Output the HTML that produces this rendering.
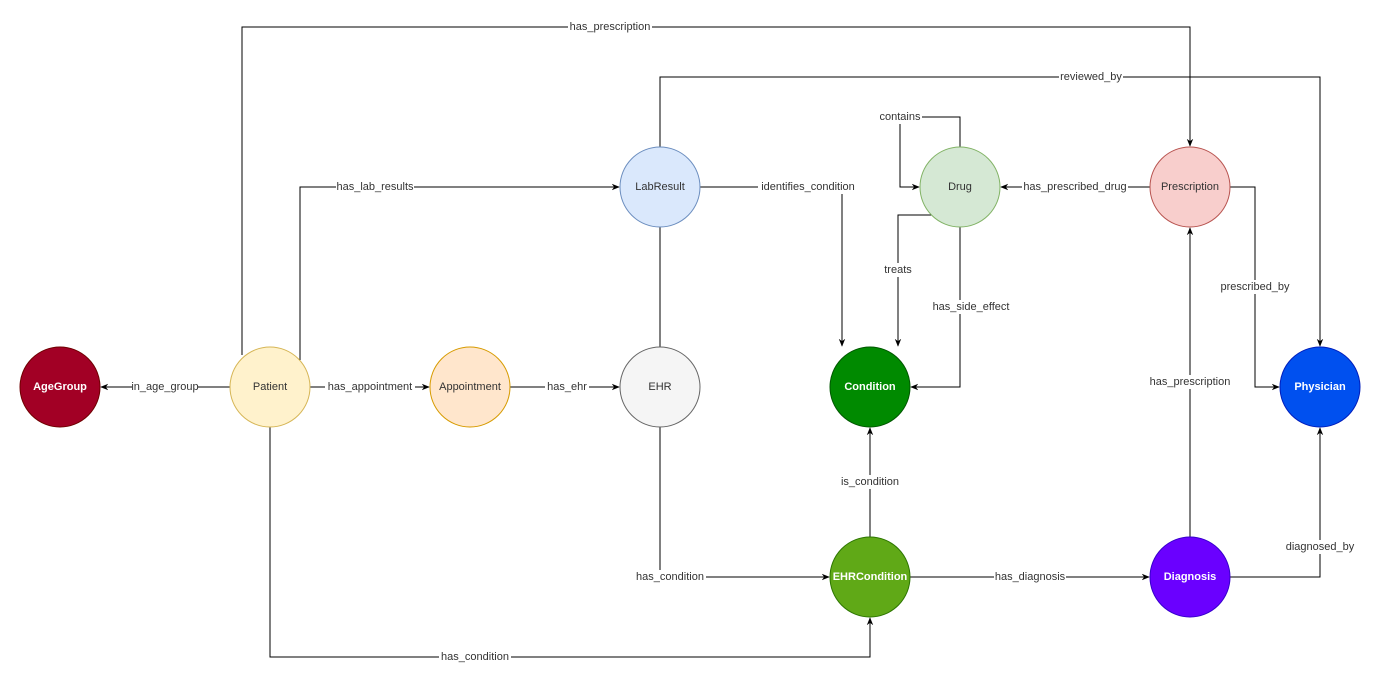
<!DOCTYPE html>
<html><head><meta charset="utf-8"><style>
html,body{margin:0;padding:0;background:#fff;}
svg{display:block;font-family:"Liberation Sans",Arial,sans-serif;}
.e{fill:none;stroke:#000;stroke-width:1;}
.l{font-size:11px;fill:#333;text-anchor:middle;dominant-baseline:central;}
.n{font-size:11px;text-anchor:middle;dominant-baseline:central;fill:#333;}
.w{fill:#fff;font-weight:bold;}
</style></head><body>
<svg width="1381" height="686" viewBox="0 0 1381 686">
<defs><marker id="a" viewBox="0 0 10 10" refX="9" refY="5" markerWidth="8" markerHeight="8" orient="auto"><path d="M0,1 L10,5 L0,9 L3,5 z" fill="#000"/></marker></defs>
<g class="e">
<path d="M230,387 H101" marker-end="url(#a)"/>
<path d="M310,387 H429" marker-end="url(#a)"/>
<path d="M510,387 H619" marker-end="url(#a)"/>
<path d="M242,355 V27 H1190 V146" marker-end="url(#a)"/>
<path d="M300,360 V187 H619" marker-end="url(#a)"/>
<path d="M660,147 V77 H1320 V346" marker-end="url(#a)"/>
<path d="M700,187 H842 V346" marker-end="url(#a)"/>
<path d="M660,227 V347"/>
<path d="M660,427 V577 H829" marker-end="url(#a)"/>
<path d="M270,427 V657 H870 V618" marker-end="url(#a)"/>
<path d="M960,147 V117 H900 V187 H919" marker-end="url(#a)"/>
<path d="M933,215 H898 V346" marker-end="url(#a)"/>
<path d="M960,227 V387 H911" marker-end="url(#a)"/>
<path d="M1150,187 H1001" marker-end="url(#a)"/>
<path d="M1230,187 H1255 V387 H1279" marker-end="url(#a)"/>
<path d="M870,537 V428" marker-end="url(#a)"/>
<path d="M910,577 H1149" marker-end="url(#a)"/>
<path d="M1190,537 V228" marker-end="url(#a)"/>
<path d="M1230,577 H1320 V428" marker-end="url(#a)"/>
</g>
<g>
<circle cx="60" cy="387" r="40" fill="#a20025" stroke="#6f0000"/>
<circle cx="270" cy="387" r="40" fill="#fff2cc" stroke="#d6b656"/>
<circle cx="470" cy="387" r="40" fill="#ffe6cc" stroke="#d79b00"/>
<circle cx="660" cy="387" r="40" fill="#f5f5f5" stroke="#666"/>
<circle cx="660" cy="187" r="40" fill="#dae8fc" stroke="#6c8ebf"/>
<circle cx="870" cy="387" r="40" fill="#008a00" stroke="#005700"/>
<circle cx="960" cy="187" r="40" fill="#d5e8d4" stroke="#82b366"/>
<circle cx="1190" cy="187" r="40" fill="#f8cecc" stroke="#b85450"/>
<circle cx="1320" cy="387" r="40" fill="#0050ef" stroke="#001dbc"/>
<circle cx="870" cy="577" r="40" fill="#60a917" stroke="#2d7600"/>
<circle cx="1190" cy="577" r="40" fill="#6a00ff" stroke="#3700cc"/>
</g>
<g>
<text class="n w" x="60" y="387">AgeGroup</text>
<text class="n" x="270" y="387">Patient</text>
<text class="n" x="470" y="387">Appointment</text>
<text class="n" x="660" y="387">EHR</text>
<text class="n" x="660" y="187">LabResult</text>
<text class="n w" x="870" y="387">Condition</text>
<text class="n" x="960" y="187">Drug</text>
<text class="n" x="1190" y="187">Prescription</text>
<text class="n w" x="1320" y="387">Physician</text>
<text class="n w" x="870" y="577">EHRCondition</text>
<text class="n w" x="1190" y="577">Diagnosis</text>
</g>
<g>
<rect x="132" y="380" width="66" height="14" fill="#fff"/><text class="l" x="165" y="387">in_age_group</text>
<rect x="325" y="380" width="90" height="14" fill="#fff"/><text class="l" x="370" y="387">has_appointment</text>
<rect x="545" y="380" width="44" height="14" fill="#fff"/><text class="l" x="567" y="387">has_ehr</text>
<rect x="568" y="20" width="84" height="14" fill="#fff"/><text class="l" x="610" y="27">has_prescription</text>
<rect x="336" y="180" width="78" height="14" fill="#fff"/><text class="l" x="375" y="187">has_lab_results</text>
<rect x="1059" y="70" width="64" height="14" fill="#fff"/><text class="l" x="1091" y="77">reviewed_by</text>
<rect x="758" y="180" width="100" height="14" fill="#fff"/><text class="l" x="808" y="187">identifies_condition</text>
<rect x="634" y="570" width="72" height="14" fill="#fff"/><text class="l" x="670" y="577">has_condition</text>
<rect x="439" y="650" width="72" height="14" fill="#fff"/><text class="l" x="475" y="657">has_condition</text>
<rect x="878" y="110" width="44" height="14" fill="#fff"/><text class="l" x="900" y="117">contains</text>
<rect x="882" y="263" width="32" height="14" fill="#fff"/><text class="l" x="898" y="270">treats</text>
<rect x="930" y="300" width="82" height="14" fill="#fff"/><text class="l" x="971" y="307">has_side_effect</text>
<rect x="1022" y="180" width="106" height="14" fill="#fff"/><text class="l" x="1075" y="187">has_prescribed_drug</text>
<rect x="1219" y="280" width="72" height="14" fill="#fff"/><text class="l" x="1255" y="287">prescribed_by</text>
<rect x="838" y="475" width="64" height="14" fill="#fff"/><text class="l" x="870" y="482">is_condition</text>
<rect x="994" y="570" width="72" height="14" fill="#fff"/><text class="l" x="1030" y="577">has_diagnosis</text>
<rect x="1148" y="375" width="84" height="14" fill="#fff"/><text class="l" x="1190" y="382">has_prescription</text>
<rect x="1285" y="540" width="70" height="14" fill="#fff"/><text class="l" x="1320" y="547">diagnosed_by</text>
</g>
</svg>
</body></html>
